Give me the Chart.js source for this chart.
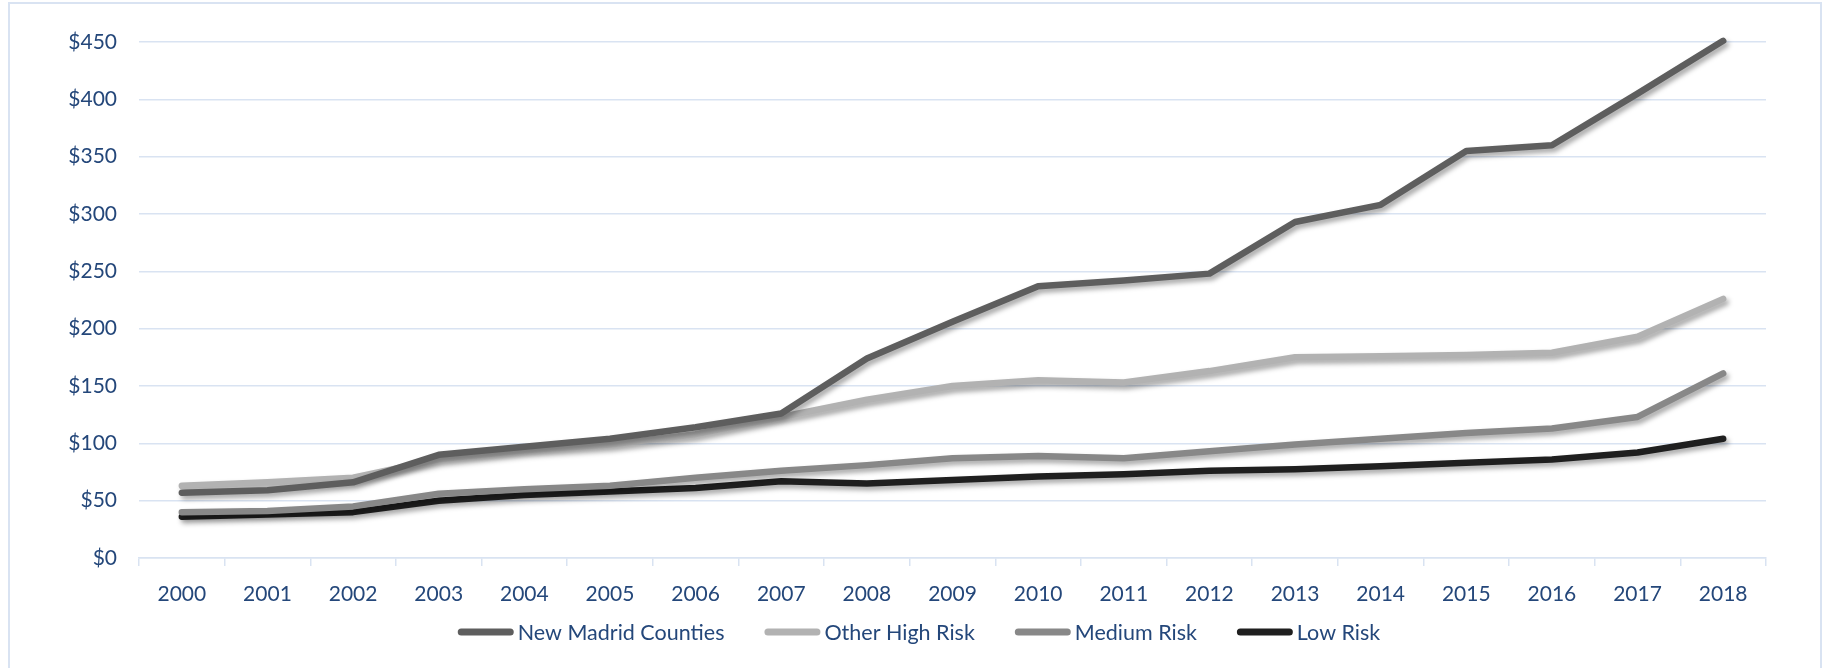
<!DOCTYPE html>
<html lang="en">
<head>
    <meta charset="UTF-8">
    <title>Cost by Risk Area, 2000-2018</title>
    <script src="https://cdn.jsdelivr.net/npm/chart.js"></script>
    <style>
        body { margin: 0; background: #fff; }
        #wrap { position: relative; width: 1832px; height: 668px; }
    </style>
</head>
<body>
    <div id="wrap">
        <canvas id="riskChart" width="1832" height="668"></canvas>
    </div>

    <script>
        // Years along the bottom axis
        const years = ["2000", "2001", "2002", "2003", "2004", "2005", "2006", "2007", "2008", "2009",
                       "2010", "2011", "2012", "2013", "2014", "2015", "2016", "2017", "2018"];

        // Dollar values per year for each group
        const newMadrid = [57, 59, 66, 90, 97, 104, 114, 126, 174, 206, 237, 242, 248, 293, 308, 355, 360, 405, 451];
        const otherHigh = [63, 66, 70, 86, 94, 99, 108, 123, 138, 150, 155, 153, 163, 175, 176, 177, 179, 193, 226];
        const mediumRisk = [40, 41, 45, 56, 60, 63, 70, 76, 81, 87, 89, 87, 93, 99, 104, 109, 113, 123, 161];
        const lowRisk = [36, 38, 40, 50, 55, 58, 61, 67, 65, 68, 71, 73, 76, 77.5, 80, 83, 86, 92, 104];

        // Y axis tick values
        const yTicks = [0, 50, 100, 150, 200, 250, 300, 350, 400, 450];

        const textColor = "#24477a";
        const gridColor = "#d9e3f2";
        const fontFamily = "Lato, 'Open Sans', sans-serif";

        function series(label, data, color) {
            return {
                label: label,
                data: data,
                borderColor: color,
                backgroundColor: color,
                borderWidth: 6.5,
                borderCapStyle: "round",
                borderJoinStyle: "round",
                pointRadius: 0,
                tension: 0,
                fill: false,
                clip: 12
            };
        }

        // soft drop shadow under each line
        const lineShadow = {
            id: "lineShadow",
            beforeDatasetDraw(chart) {
                const ctx = chart.ctx;
                ctx.save();
                ctx.shadowColor = "rgba(0, 0, 0, 0.35)";
                ctx.shadowBlur = 5;
                ctx.shadowOffsetX = 2.5;
                ctx.shadowOffsetY = 3.5;
            },
            afterDatasetDraw(chart) {
                chart.ctx.restore();
            }
        };

        // thin outline around the whole chart
        const frame = {
            id: "frame",
            beforeDraw(chart) {
                const ctx = chart.ctx;
                ctx.save();
                ctx.strokeStyle = gridColor;
                ctx.lineWidth = 2;
                ctx.strokeRect(9, 3, 1812, 720);
                ctx.restore();
            }
        };

        // legend row: line sample followed directly by its label
        const lineLegend = {
            id: "lineLegend",
            afterDraw(chart) {
                const ctx = chart.ctx;
                const sets = chart.data.datasets;
                const lineLen = 56, textGap = 4, itemGap = 40, y = 632;
                ctx.save();
                ctx.font = "21.5px " + fontFamily;
                ctx.textBaseline = "middle";
                let total = 0;
                sets.forEach((ds, i) => {
                    total += lineLen + textGap + ctx.measureText(ds.label).width;
                    if (i < sets.length - 1) total += itemGap;
                });
                let x = chart.width / 2 - total / 2 + 3;
                sets.forEach(ds => {
                    ctx.strokeStyle = ds.borderColor;
                    ctx.lineWidth = 7;
                    ctx.lineCap = "round";
                    ctx.beginPath();
                    ctx.moveTo(x + 3.5, y);
                    ctx.lineTo(x + lineLen - 3.5, y);
                    ctx.stroke();
                    x += lineLen + textGap;
                    ctx.fillStyle = textColor;
                    ctx.fillText(ds.label, x, y + 1);
                    x += ctx.measureText(ds.label).width + itemGap;
                });
                ctx.restore();
            }
        };

        const ctx = document.getElementById("riskChart").getContext("2d");
        const chart = new Chart(ctx, {
            type: "line",
            data: {
                labels: years,
                datasets: [
                    series("New Madrid Counties", newMadrid, "#5e5e5e"),
                    series("Other High Risk", otherHigh, "#b2b2b2"),
                    series("Medium Risk", mediumRisk, "#888888"),
                    series("Low Risk", lowRisk, "#1f1f1f")
                ]
            },
            options: {
                responsive: false,
                animation: false,
                layout: {
                    padding: { top: 42, right: 66, bottom: 60, left: 0 }
                },
                plugins: {
                    legend: { display: false },
                    tooltip: { enabled: false }
                },
                scales: {
                    x: {
                        offset: true,
                        afterFit: scale => { scale.height = 50; },
                        grid: {
                            offset: true,
                            drawOnChartArea: false,
                            tickLength: 8,
                            color: gridColor,
                            lineWidth: 1.5
                        },
                        border: { display: true, color: gridColor, width: 1.5 },
                        ticks: {
                            color: textColor,
                            font: { family: fontFamily, size: 21 },
                            padding: 16,
                            maxRotation: 0,
                            autoSkip: false
                        }
                    },
                    y: {
                        min: 0,
                        max: 450,
                        afterFit: scale => { scale.width = 139; },
                        afterBuildTicks: scale => {
                            scale.ticks = yTicks.map(v => ({ value: v }));
                        },
                        grid: {
                            color: gridColor,
                            lineWidth: 1.5,
                            drawTicks: false
                        },
                        border: { display: false },
                        ticks: {
                            color: textColor,
                            font: { family: fontFamily, size: 21 },
                            padding: 22,
                            callback: value => "$" + value
                        }
                    }
                }
            },
            plugins: [frame, lineShadow, lineLegend]
        });
    </script>
</body>
</html>
